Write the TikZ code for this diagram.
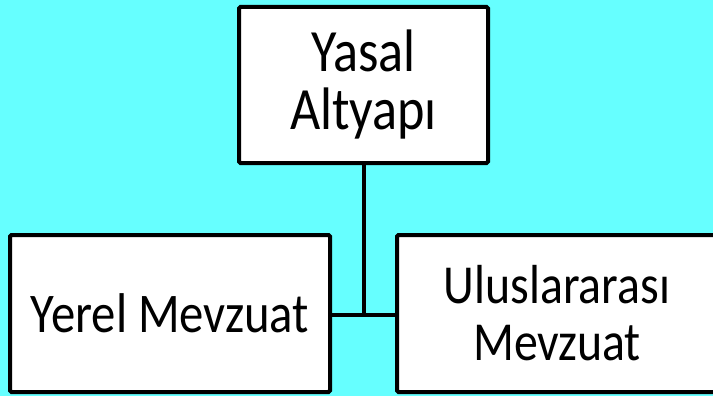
\documentclass[tikz,border=0pt]{standalone}
\usepackage{fontspec}
\setmainfont[FakeStretch=0.87]{Carlito}
\definecolor{bgcyan}{HTML}{66FFFF}
\tikzset{
  box/.style={draw=black, line width=4pt, fill=white, rounded corners=1.5pt,
    align=center, inner sep=0pt, font=\fontsize{55}{57}\selectfont},
  link/.style={draw=black, line width=4pt}
}
\begin{document}
\begin{tikzpicture}[x=1pt,y=-1pt]
\useasboundingbox (0,0) rectangle (713,396);
\clip (0,0) rectangle (713,396);
\fill[bgcyan] (0,0) rectangle (713,396);
\node[box, minimum width=249pt, minimum height=156pt, font=\fontsize{60}{58}\selectfont] (top) at (363.5,85) {Yasal\\Altyapı};
\node[box, minimum width=320pt, minimum height=157pt, font=\fontsize{56}{57}\selectfont] (left) at (170,313.5) {Yerel Mevzuat};
\node[box, minimum width=320pt, minimum height=157pt] (right) at (557,313.5) {Uluslararası\\Mevzuat};
\coordinate (j) at (363.5,315);
\draw[link] (top.south) -- (j);
\draw[link] (j -| left.east) -- (j -| right.west);
\end{tikzpicture}
\end{document}
